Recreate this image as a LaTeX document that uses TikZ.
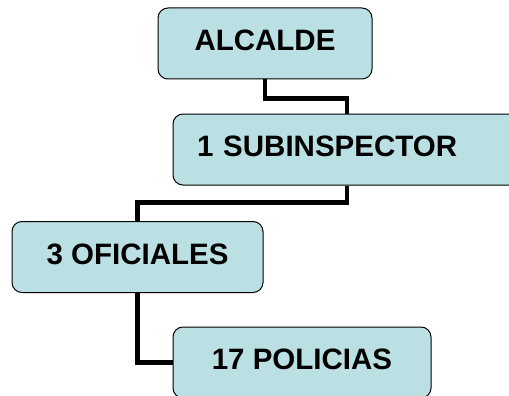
\documentclass[tikz,border=0pt]{standalone}
\usepackage{fontspec}
\setmainfont{Liberation Sans}
\usepackage{tikz}
\usetikzlibrary{positioning}
\definecolor{orgblue}{HTML}{BBE0E3}
\tikzstyle{post}=[rectangle, draw, rounded corners=10pt,
                  line width=1pt, fill=orgblue, minimum height=71pt,
                  text height=21pt, text depth=7pt,
                  font=\fontsize{29.5}{35}\selectfont\bfseries]
\tikzstyle{link}=[line width=4.5pt, line join=miter]

\begin{document}
\begin{tikzpicture}[node distance=1cm, on grid]
                \useasboundingbox (0,0) rectangle (509pt,-396pt);
                \clip (0,0) rectangle (509pt,-396pt);

                \node[post, minimum width=214pt] (alc) at (265pt,-43.5pt) {ALCALDE};
                \node[post, text width=300pt, align=left, inner xsep=24pt]
                      (sub) [below right=106pt and 82pt of alc] {1 SUBINSPECTOR};
                \node[post, minimum width=251pt] (ofi) [below left=107.5pt and 209.5pt of sub] {3 OFICIALES};
                \node[post, minimum width=258pt] (pol) [below right=105.5pt and 164.5pt of ofi] {17 POLICIAS};

                \draw[link] (alc.south) -- ++(0,-19pt) -| (sub.north);
                \draw[link] (sub.south) -- ++(0,-17pt) -| (ofi.north);
                \draw[link] (ofi.south) |- (pol.west);
        \end{tikzpicture}
\end{document}
